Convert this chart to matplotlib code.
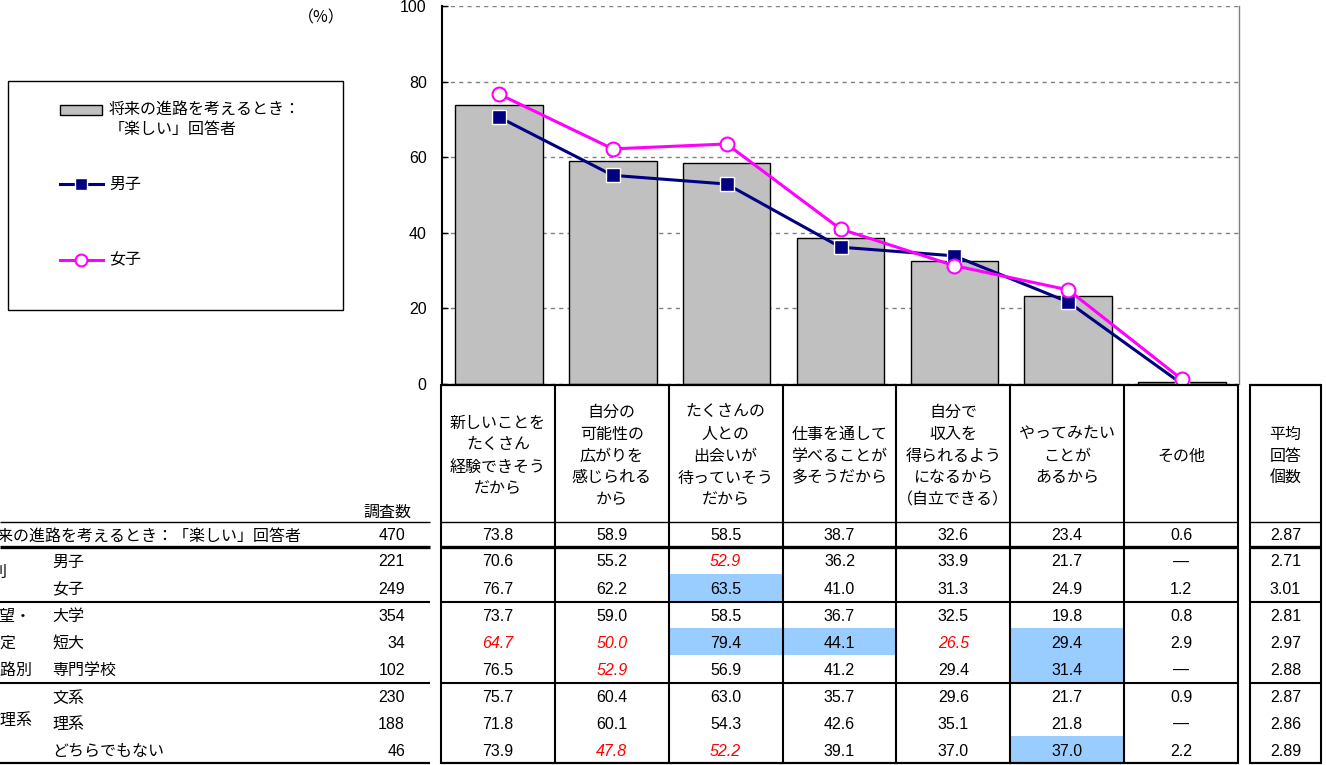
import matplotlib
matplotlib.use("Agg")
import matplotlib.pyplot as plt
from matplotlib.patches import Rectangle

plt.rcParams['font.family'] = ['Noto Sans CJK JP', 'DejaVu Sans']

# ---------------- data ----------------
categories = ["新しいことを\nたくさん\n経験できそう\nだから",
              "自分の\n可能性の\n広がりを\n感じられる\nから",
              "たくさんの\n人との\n出会いが\n待っていそう\nだから",
              "仕事を通して\n学べることが\n多そうだから",
              "自分で\n収入を\n得られるよう\nになるから\n（自立できる）",
              "やってみたい\nことが\nあるから",
              "その他"]
total_label = "将来の進路を考えるとき：「楽しい」回答者"
total_n = 470
total_values = [73.8, 58.9, 58.5, 38.7, 32.6, 23.4, 0.6]
total_avg = 2.87

row_labels = ["男子", "女子", "大学", "短大", "専門学校", "文系", "理系", "どちらでもない"]
row_n = [221, 249, 354, 34, 102, 230, 188, 46]
male = [70.6, 55.2, 52.9, 36.2, 33.9, 21.7, None]
female = [76.7, 62.2, 63.5, 41.0, 31.3, 24.9, 1.2]
university = [73.7, 59.0, 58.5, 36.7, 32.5, 19.8, 0.8]
junior_college = [64.7, 50.0, 79.4, 44.1, 26.5, 29.4, 2.9]
vocational = [76.5, 52.9, 56.9, 41.2, 29.4, 31.4, None]
humanities = [75.7, 60.4, 63.0, 35.7, 29.6, 21.7, 0.9]
science = [71.8, 60.1, 54.3, 42.6, 35.1, 21.8, None]
neither = [73.9, 47.8, 52.2, 39.1, 37.0, 37.0, 2.2]
row_avg = [2.71, 3.01, 2.81, 2.97, 2.88, 2.87, 2.86, 2.89]
group_labels = ["性別", "志望・\n予定\n進路別", "文理系"]
group_rows = [(0, 2), (2, 5), (5, 8)]

# (row, column) cells: red italic = notably lower, blue = notably higher
red_cells = [(0, 2), (3, 0), (3, 1), (3, 4), (4, 1), (7, 1), (7, 2)]
blue_cells = [(1, 2), (3, 2), (3, 3), (3, 5), (4, 5), (7, 5)]

avg_header = "平均\n回答\n個数"
n_header = "調査数"
legend_labels = ["将来の進路を考えるとき：\n「楽しい」回答者", "男子", "女子"]

table_rows = [male, female, university, junior_college, vocational,
              humanities, science, neither]

# ---------------- styles ----------------
W, H = 1326, 765
bar_style = dict(color="#C0C0C0", edgecolor="black", linewidth=1.0)
male_style = dict(color="#000080", lw=2.2, marker="s", ms=9.5, mfc="#000080",
                  mec="white", mew=1.0)
female_style = dict(color="#FF00FF", lw=2.2, marker="o", ms=10, mfc="white",
                    mec="#FF00FF", mew=1.5)
NUMF = "Liberation Sans"

fig = plt.figure(figsize=(W / 100, H / 100), dpi=100)

# chart area in pixel geometry
px_l, px_r, px_t, px_b = 442, 1239, 6, 384
ax = fig.add_axes([px_l / W, 1 - px_b / H, (px_r - px_l) / W, (px_b - px_t) / H])
x = list(range(len(categories)))
ax.bar(x, total_values, width=0.77, zorder=2, **bar_style)
male_plot = [v if v is not None else 0 for v in male]
ax.plot(x, male_plot, zorder=4, **male_style)
ax.plot(x, female, zorder=5, **female_style)
ax.set_xlim(-0.5, len(categories) - 0.5)
ax.set_ylim(0, 100)
ax.set_yticks([0, 20, 40, 60, 80, 100])
ax.set_xticks([])
ax.yaxis.grid(True, color="#808080", linestyle=(0, (3, 3)), lw=1.0)
ax.set_axisbelow(True)
ax.tick_params(axis="y", direction="in", length=4, width=1, pad=11,
               labelsize=11.5)
for lab in ax.get_yticklabels():
    lab.set_fontfamily(NUMF)
ax.spines["top"].set_visible(False)
ax.spines["bottom"].set_visible(False)
ax.spines["right"].set_color("#808080")
ax.spines["right"].set_linewidth(1.0)
ax.spines["left"].set_linewidth(1.5)

# overlay in pixel coordinates for table + legend
ov = fig.add_axes([0, 0, 1, 1], zorder=3)
ov.set_xlim(0, W)
ov.set_ylim(H, 0)
ov.set_axis_off()

ncol = len(categories)
colw = (px_r - px_l) / ncol
edges = [px_l - 1 + i * colw for i in range(ncol + 1)]
centers = [(edges[i] + edges[i + 1]) / 2 for i in range(ncol)]
row_bounds = [547, 574, 602, 628, 655, 683, 710, 736, 763]
row_mid = [(row_bounds[i] + row_bounds[i + 1]) / 2 + 1.5 for i in range(len(row_labels))]
head_top, head_bot, tot_bot = 385, 522, 547
tot_mid = (head_bot + tot_bot) / 2 + 1.5
avg_l, avg_r = 1250, 1321
left_end = 430

FS = 11.5
NFS = 11.5

# highlight cells
for (r, c) in blue_cells:
    ov.add_patch(Rectangle((edges[c], row_bounds[r]), colw, row_bounds[r + 1] - row_bounds[r],
                           facecolor="#99CCFF", edgecolor="none", zorder=1))

# header labels
for c, lab in enumerate(categories):
    ov.text(centers[c], 456, lab, ha="center", va="center", fontsize=FS,
            linespacing=1.38, multialignment="center", zorder=5)
ov.text((avg_l + avg_r) / 2, 456, avg_header, ha="center", va="center",
        fontsize=FS, linespacing=1.38, zorder=5)
ov.text(387, 512, n_header, ha="center", va="center", fontsize=FS)

# total row
ov.text(-18, tot_mid, total_label, ha="left", va="center", fontsize=FS)
ov.text(405, tot_mid, f"{total_n}", ha="right", va="center", fontsize=NFS, family=NUMF)
for c, v in enumerate(total_values):
    ov.text(centers[c], tot_mid, f"{v:.1f}", ha="center", va="center",
            fontsize=NFS, family=NUMF, zorder=5)
ov.text((avg_l + avg_r) / 2, tot_mid, f"{total_avg:.2f}", ha="center",
        va="center", fontsize=NFS, family=NUMF)

# body rows
for r, (lab, n, vals, av) in enumerate(zip(row_labels, row_n, table_rows, row_avg)):
    y = row_mid[r]
    ov.text(52, y, lab, ha="left", va="center", fontsize=FS)
    ov.text(405, y, f"{n}", ha="right", va="center", fontsize=NFS, family=NUMF)
    for c, v in enumerate(vals):
        red = (r, c) in red_cells
        txt = "—" if v is None else f"{v:.1f}"
        ov.text(centers[c], y, txt, ha="center", va="center", fontsize=NFS,
                family=NUMF, color="#FF0000" if red else "black",
                style="italic" if red else "normal", zorder=5)
    ov.text((avg_l + avg_r) / 2, y, f"{av:.2f}", ha="center", va="center",
            fontsize=NFS, family=NUMF)

# group labels (partly cut off at the left edge, as in the source)
group_x = [8, -16, -16]
for gi, (lab, (r0, r1)) in enumerate(zip(group_labels, group_rows)):
    lines = lab.split("\n")
    if len(lines) == 1:
        yc = (row_bounds[r0] + row_bounds[r1]) / 2 - 2
        ha = "right" if gi == 0 else "left"
        ov.text(group_x[gi], yc, lab, ha=ha, va="center", fontsize=FS)
    else:
        for k, ln in enumerate(lines):
            ov.text(group_x[gi], row_mid[r0 + k], ln, ha="left", va="center", fontsize=FS)

# table lines
def hline(y, x0, x1, lw):
    ov.plot([x0, x1], [y, y], color="black", lw=lw, solid_capstyle="butt", zorder=6)

def vline(xx, y0, y1, lw):
    ov.plot([xx, xx], [y0, y1], color="black", lw=lw, solid_capstyle="projecting", zorder=6)

for x0, x1 in [(edges[0], edges[-1]), (avg_l, avg_r)]:
    hline(head_top, x0, x1, 1.6)
    hline(head_bot, x0, x1, 1.0)
    hline(tot_bot, x0, x1, 2.4)
    hline(row_bounds[2], x0, x1, 1.5)
    hline(row_bounds[5], x0, x1, 1.5)
    hline(row_bounds[-1], x0, x1, 1.6)
hline(head_bot, 0, left_end, 1.0)
hline(tot_bot, 0, left_end, 2.4)
hline(row_bounds[2], 0, left_end, 1.5)
hline(row_bounds[5], 0, left_end, 1.5)
hline(row_bounds[-1], 0, left_end, 1.6)
for e in edges:
    vline(e, head_top, row_bounds[-1], 1.5)
vline(avg_l, head_top, row_bounds[-1], 1.5)
vline(avg_r, head_top, row_bounds[-1], 1.5)

# unit label
ov.text(321, 18, "（%）", ha="center", va="center", fontsize=11.5)

# legend box (drawn with the series styles)
ov.add_patch(Rectangle((8, 81), 335, 229, facecolor="white", edgecolor="black", lw=1.0, zorder=2))
ov.add_patch(Rectangle((60, 105), 42, 10, facecolor=bar_style["color"],
                       edgecolor="black", lw=1.0, zorder=3))
ov.text(109, 101, legend_labels[0], ha="left", va="top", fontsize=FS, linespacing=1.25, zorder=3)
for yy, sty, lab in [(184, male_style, legend_labels[1]), (260, female_style, legend_labels[2])]:
    ov.plot([60, 103], [yy, yy], color=sty["color"], lw=sty["lw"], zorder=3)
    ov.plot([81], [yy], linestyle="none", marker=sty["marker"], ms=sty["ms"] * 0.85,
            mfc=sty["mfc"], mec=sty["mec"], mew=sty["mew"], zorder=4)
    ov.text(109, yy, lab, ha="left", va="center", fontsize=FS, zorder=3)

fig.savefig("out.png", dpi=100)
